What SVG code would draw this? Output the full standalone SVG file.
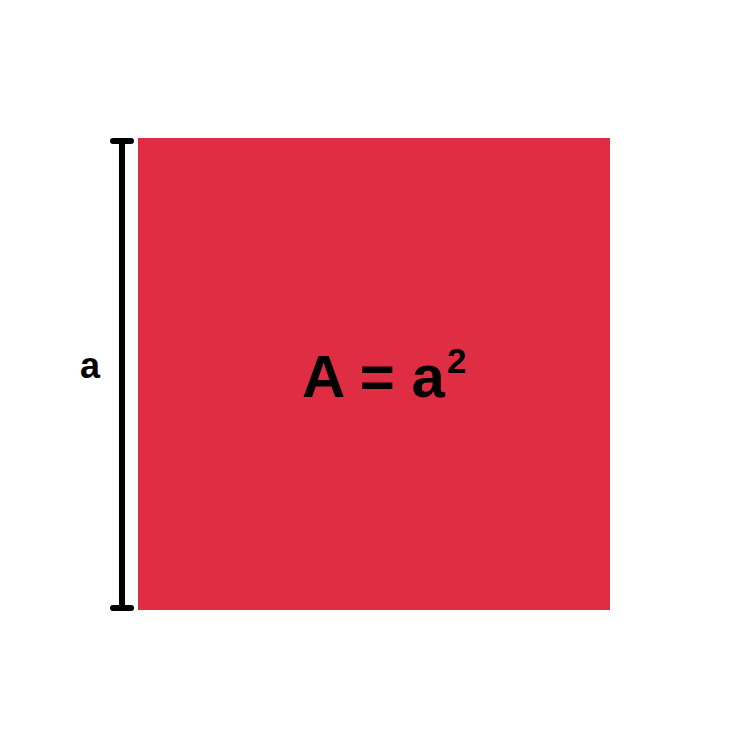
<svg xmlns="http://www.w3.org/2000/svg" width="750" height="750" viewBox="0 0 750 750">
<style>
.t{font-family:"Liberation Sans",Arial,sans-serif;font-weight:bold;fill:#000}
.dim{stroke:#000;stroke-width:6;stroke-linecap:round;fill:none}
</style>
<rect width="750" height="750" fill="#fff"/>
<g id="square">
<rect x="138" y="138" width="472" height="472" fill="#DF2E44"/>
<text class="t" x="302" y="397" font-size="60">A = a</text>
<text class="t" x="447" y="373" font-size="35">2</text>
</g>
<g id="dimension">
<line class="dim" x1="122" y1="141" x2="122" y2="608"/>
<line class="dim" x1="113" y1="141" x2="131" y2="141"/>
<line class="dim" x1="113" y1="608" x2="131" y2="608"/>
<text class="t" x="80" y="378" font-size="36">a</text>
</g>
</svg>
